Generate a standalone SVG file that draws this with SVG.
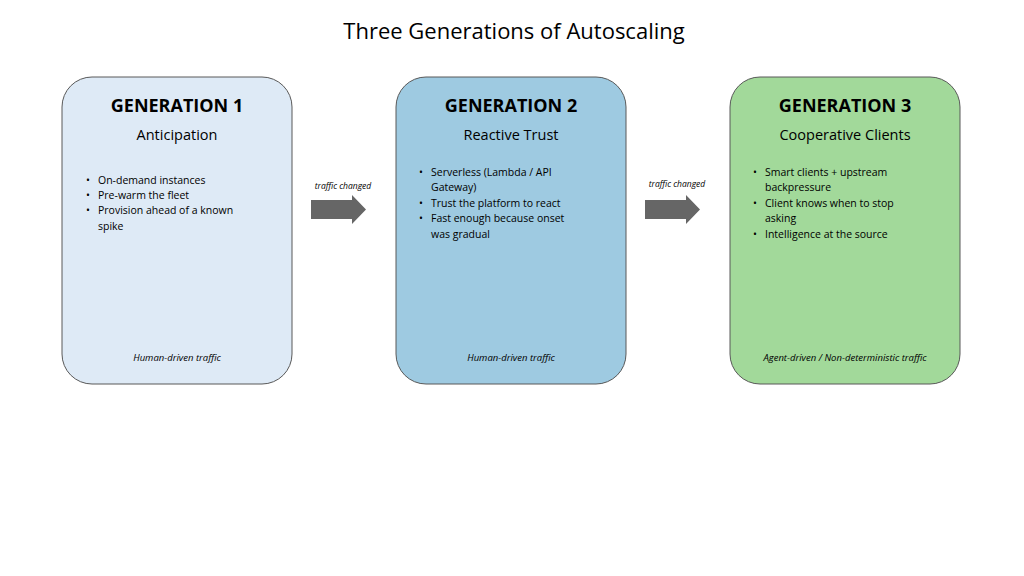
<svg xmlns="http://www.w3.org/2000/svg" width="1024" height="576" viewBox="0 0 1024 576">
<style>
text{font-family:"Open Sans","Liberation Sans",sans-serif;fill:#000}
.box{stroke:#595959;stroke-width:1}
.h{font-size:18px;font-weight:bold;text-anchor:middle}
.s{font-size:14.5px;text-anchor:middle}
.b{font-size:10.5px}
.f{font-size:9.5px;font-style:italic;text-anchor:middle}
.l{font-size:8.5px;font-style:italic;text-anchor:middle}
.arr{fill:#666}
</style>
<rect width="1024" height="576" fill="#fff"/>
<text x="514" y="39" style="font-size:22px" text-anchor="middle">Three Generations of Autoscaling</text>
<g id="gen1">
<rect class="box" x="62" y="77" width="230" height="307" rx="30" fill="#deeaf6"/>
<text class="h" x="177" y="112">GENERATION 1</text>
<text class="s" x="177" y="140">Anticipation</text>
<g class="b"><text x="86" y="184">•</text><text x="98" y="184">On-demand instances</text>
<text x="86" y="199">•</text><text x="98" y="199">Pre-warm the fleet</text>
<text x="86" y="214">•</text><text x="98" y="214">Provision ahead of a known</text>
<text x="98" y="230">spike</text></g>
<text class="f" x="177" y="361">Human-driven traffic</text>
</g>
<g id="gen2">
<rect class="box" x="396" y="77" width="230" height="307" rx="30" fill="#9ecae1"/>
<text class="h" x="511" y="112">GENERATION 2</text>
<text class="s" x="511" y="140">Reactive Trust</text>
<g class="b"><text x="419" y="176">•</text><text x="431" y="176">Serverless (Lambda / API</text>
<text x="431" y="191">Gateway)</text>
<text x="419" y="207">•</text><text x="431" y="207">Trust the platform to react</text>
<text x="419" y="222">•</text><text x="431" y="222">Fast enough because onset</text>
<text x="431" y="238">was gradual</text></g>
<text class="f" x="511" y="361">Human-driven traffic</text>
</g>
<g id="gen3">
<rect class="box" x="730" y="77" width="230" height="307" rx="30" fill="#a2d99a"/>
<text class="h" x="845" y="112">GENERATION 3</text>
<text class="s" x="845" y="140">Cooperative Clients</text>
<g class="b"><text x="753" y="176">•</text><text x="765" y="176">Smart clients + upstream</text>
<text x="765" y="191">backpressure</text>
<text x="753" y="207">•</text><text x="765" y="207">Client knows when to stop</text>
<text x="765" y="222">asking</text>
<text x="753" y="238">•</text><text x="765" y="238">Intelligence at the source</text></g>
<text class="f" x="845" y="361">Agent-driven / Non-deterministic traffic</text>
</g>
<g id="connectors">
<polygon class="arr" points="311,200 352,200 352,195 366,209.5 352,224 352,219 311,219"/>
<text class="l" x="343" y="189">traffic changed</text>
<polygon class="arr" points="645,200 686,200 686,195 700,209.5 686,224 686,219 645,219"/>
<text class="l" x="677" y="187">traffic changed</text>
</g>
</svg>
